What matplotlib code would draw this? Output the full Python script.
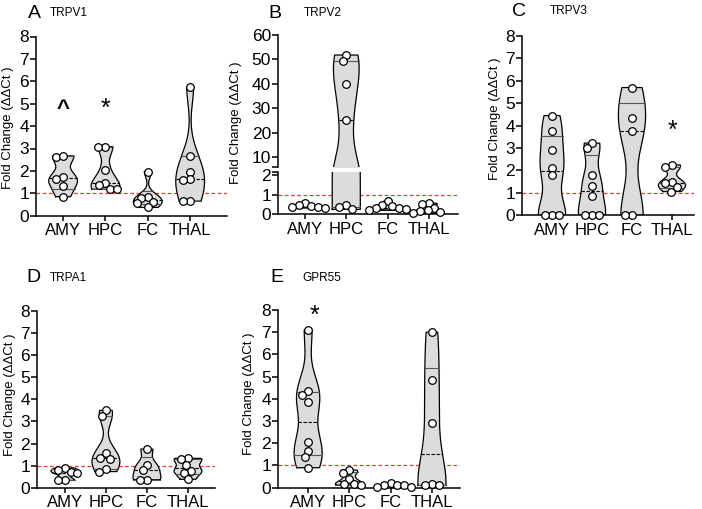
import numpy as np
import matplotlib.pyplot as plt

W, H = 702, 509
plt.rcParams['font.family'] = ['Liberation Sans', 'DejaVu Sans']

regions = ["AMY", "HPC", "FC", "THAL"]

# values (fold change, ddCt)
trpv1 = [
    [2.64, 2.67, 1.72, 1.65, 1.33, 0.85],
    [3.08, 3.08, 2.05, 1.45, 1.38, 1.2, 1.18],
    [1.97, 0.82, 0.8, 0.6, 0.55, 0.37],
    [5.75, 2.67, 1.97, 1.63, 1.6, 0.65, 0.65],
]
trpv2 = [
    [0.6, 0.45, 0.4, 0.36, 0.36, 0.3],
    [51.8, 49.2, 40.0, 25.3, 0.45, 0.38, 0.25],
    [0.68, 0.45, 0.4, 0.33, 0.3, 0.28, 0.2],
    [0.57, 0.5, 0.33, 0.2, 0.17, 0.1, 0.05],
]
trpv3 = [
    [4.45, 3.77, 2.9, 2.13, 1.8, 0.0, 0.0, 0.0],
    [3.22, 3.02, 1.78, 1.3, 0.85, 0.0, 0.0, 0.0],
    [5.7, 4.32, 3.78, 0.0, 0.0],
    [2.25, 2.14, 1.47, 1.44, 1.25, 1.06],
]
trpa1 = [
    [0.9, 0.8, 0.72, 0.65, 0.35, 0.33],
    [3.5, 3.23, 1.55, 1.36, 1.3, 0.83, 0.73],
    [1.75, 1.05, 0.8, 0.36, 0.36],
    [1.33, 1.3, 1.02, 0.77, 0.68, 0.38],
]
gpr55 = [
    [7.1, 4.35, 4.17, 3.85, 2.05, 1.67, 1.4, 0.9],
    [0.8, 0.68, 0.4, 0.18, 0.15, 0.12],
    [0.2, 0.12, 0.1, 0.1, 0.05, 0.03],
    [7.0, 4.87, 2.9, 0.15, 0.12, 0.1],
]

# significance marks: (panel, region index, symbol, y)
marks = [
    ("A", 0, "^", 4.75),
    ("A", 1, "*", 4.75),
    ("C", 3, "*", 3.75),
    ("E", 0, "*", 7.75),
]

FILL = "#dcdcdc"
RED = "#f03c32"
MARKER_PX = 7.0


def rect(l, r, t, b):
    return [l / W, 1 - b / H, (r - l) / W, (b - t) / H]


def style_axes(ax, bottom=True):
    for s in ["top", "right"]:
        ax.spines[s].set_visible(False)
    ax.spines["left"].set_linewidth(1.1)
    ax.spines["bottom"].set_linewidth(1.1)
    ax.spines["bottom"].set_visible(bottom)
    ax.tick_params(axis="y", direction="out", length=4, width=1.1, labelsize=12.5, pad=1)
    ax.tick_params(axis="x", direction="out", length=3.5, width=1.1, labelsize=12, pad=2)
    ax.patch.set_alpha(0)


def kde_curve(vals, factor=0.65):
    v = np.asarray(vals, float)
    bw = factor * v.std(ddof=1) * len(v) ** (-0.2)
    yy = np.linspace(v.min(), v.max(), 300)
    dens = np.exp(-0.5 * ((yy[:, None] - v[None, :]) / bw) ** 2).sum(axis=1)
    return yy, dens / dens.max()


def draw_violin(axes_list, x, vals, half=0.34):
    yy, dens = kde_curve(vals)
    w = half * dens
    q1, med, q3 = np.percentile(vals, [25, 50, 75], method="weibull")
    for ax in axes_list:
        ax.fill_betweenx(yy, x - w, x + w, color=FILL, lw=0, zorder=1)
        xs = np.concatenate([x - w, (x + w)[::-1], [x - w[0]]])
        ys = np.concatenate([yy, yy[::-1], [yy[0]]])
        ax.plot(xs, ys, color="black", lw=0.9, zorder=2)
        for q, ls, c in [(q1, "-", "#555555"), (q3, "-", "#555555"), (med, (0, (3, 1.5)), "black")]:
            wq = np.interp(q, yy, w)
            ax.plot([x - wq, x + wq], [q, q], color=c, ls=ls, lw=0.8, zorder=3)


def swarm_offsets(ypx, xscale):
    # greedy beeswarm in pixel space, then back to data units
    d = MARKER_PX
    order = np.argsort(-np.asarray(ypx))
    placed = []
    offs = np.zeros(len(ypx))
    for i in order:
        y = ypx[i]
        bad = []
        for xj, yj in placed:
            dy = abs(y - yj)
            if dy < d:
                h = np.sqrt(d * d - dy * dy)
                bad.append((xj - h, xj + h))
        cands = [0.0] + [b[0] for b in bad] + [b[1] for b in bad]
        cands = sorted(cands, key=lambda c: (round(abs(c), 6), c))
        for c in cands:
            if all(not (lo + 1e-6 < c < hi - 1e-6) for lo, hi in bad):
                break
        placed.append((c, y))
        offs[i] = c / xscale
    return offs


def draw_points(axes_list, x, vals, ypx_fn, xscale):
    vals = np.asarray(vals, float)
    ypx = np.array([ypx_fn(v) for v in vals])
    offs = swarm_offsets(ypx, xscale)
    for ax in axes_list:
        ax.plot(x + offs, vals, "o", ms=5.5, mfc="white", mec="black", mew=0.9,
                ls="none", zorder=5, clip_on=False)


fig = plt.figure(figsize=(W / 100, H / 100), dpi=100)

# panel geometry in pixels: left, right, y-top (ymax), y-bottom (0), xlim
panels = {
    "A": dict(px=(36, 227, 36.5, 215.7), xlim=(-0.64, 3.87), data=trpv1),
    "C": dict(px=(522, 694, 36, 215.3), xlim=(-0.75, 3.55), data=trpv3),
    "D": dict(px=(37, 215, 311, 487.7), xlim=(-0.68, 3.66), data=trpa1),
    "E": dict(px=(278, 460, 310, 487.7), xlim=(-0.73, 3.68), data=gpr55),
}
axes = {}
for key, p in panels.items():
    l, r, t, b = p["px"]
    ax = fig.add_axes(rect(l, r, t, b))
    style_axes(ax)
    ax.set_xlim(*p["xlim"])
    ax.set_ylim(0, 8)
    ax.set_yticks(range(9))
    ax.set_xticks(range(4))
    ax.set_xticklabels(regions)
    ax.axhline(1, color=RED, ls=(0, (3, 2)), lw=0.9, zorder=0)
    xscale = (r - l) / (p["xlim"][1] - p["xlim"][0])
    yscale = (b - t) / 8
    for i, vals in enumerate(p["data"]):
        draw_violin([ax], i, vals)
        draw_points([ax], i, vals, lambda v, ys=yscale: v * ys, xscale)
    axes[key] = ax

# panel B: broken y axis
bl, br = 278, 458
bxlim = (-0.65, 3.7)
ax_top = fig.add_axes(rect(bl, br, 35, 167))
ax_bot = fig.add_axes(rect(bl, br, 171.7, 214.3))
style_axes(ax_top, bottom=False)
style_axes(ax_bot)
ax_top.set_ylim(6, 60)
ax_top.set_yticks(range(10, 61, 10))
ax_top.set_xticks([])
ax_bot.set_ylim(0, 2.17)
ax_bot.set_yticks([0, 1, 2])
ax_bot.set_xticks(range(4))
ax_bot.set_xticklabels(regions)
for ax in (ax_top, ax_bot):
    ax.set_xlim(*bxlim)
ax_bot.axhline(1, color=RED, ls=(0, (3, 2)), lw=0.9, zorder=0)
# break ticks at the ends of the two spine pieces
ax_top.plot([0], [6], marker=0, ms=4, mew=1.1, color="black", clip_on=False,
            transform=ax_top.get_yaxis_transform())
ax_bot.plot([0], [2.17], marker=0, ms=4, mew=1.1, color="black", clip_on=False,
            transform=ax_bot.get_yaxis_transform())

top_scale = (167 - 35) / (60 - 6)
bot_scale = (214.3 - 171.7) / 2.17


def b_ypx(v):
    return v * bot_scale if v <= 2.17 else 50 + (v - 6) * top_scale


bxscale = (br - bl) / (bxlim[1] - bxlim[0])
for i, vals in enumerate(trpv2):
    if max(vals) > 2.17:
        draw_violin([ax_top, ax_bot], i, vals)
        lo = [v for v in vals if v <= 2.17]
        hi = [v for v in vals if v > 2.17]
        draw_points([ax_bot], i, lo, b_ypx, bxscale)
        draw_points([ax_top], i, hi, b_ypx, bxscale)
    else:
        draw_violin([ax_bot], i, vals)
        draw_points([ax_bot], i, vals, b_ypx, bxscale)
axes["B"] = ax_top

for pkey, idx, sym, y in marks:
    ax = axes[pkey]
    dx = 0.15 if pkey == "E" else 0.0
    ax.text(idx + dx, y, sym, ha="center", va="center",
            fontsize=16 if sym == "^" else 18, fontweight="bold" if sym == "^" else "normal")

# letters, gene names, y labels (pixel positions)
heads = [
    ("A", 34, 13, 50, "TRPV1"),
    ("B", 275, 13, 304, "TRPV2"),
    ("C", 519, 11, 550, "TRPV3"),
    ("D", 33, 278, 50, "TRPA1"),
    ("E", 277, 278, 302, "GPR55"),
]
for letter, lx, ly, gx, gene in heads:
    fig.text(lx / W, 1 - ly / H, letter, ha="center", va="center", fontsize=14)
    fig.text(gx / W, 1 - ly / H, gene, ha="left", va="center", fontsize=8.5)

ylabs = [(8, 128), (236, 123), (495, 119), (10, 395), (249, 394)]
for x, y in ylabs:
    fig.text(x / W, 1 - y / H, "Fold Change (ΔΔCt )", rotation=90,
             ha="center", va="center", fontsize=9.5)

fig.savefig("out.png", dpi=100)
